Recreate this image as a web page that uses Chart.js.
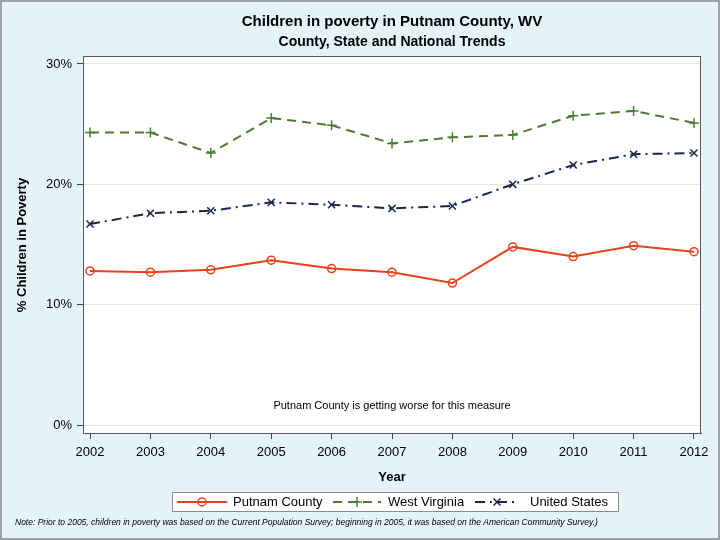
<!DOCTYPE html>
<html><head><meta charset="utf-8">
<script src="https://cdn.jsdelivr.net/npm/chart.js@4/dist/chart.umd.min.js"></script>
<style>
html,body{margin:0;padding:0;background:#e6f2fa}
#wrap{position:relative;width:720px;height:540px}
canvas{display:block}
</style></head><body>
<div id="wrap"><canvas id="c" width="720" height="540"></canvas></div>
<script>
const years = [2002,2003,2004,2005,2006,2007,2008,2009,2010,2011,2012];
const putnamCounty = [12.8,12.7,12.9,13.7,13.0,12.7,11.8,14.8,14.0,14.9,14.4];
const westVirginia = [24.3,24.3,22.6,25.5,24.9,23.4,23.9,24.1,25.7,26.1,25.1];
const unitedStates = [16.7,17.6,17.8,18.5,18.3,18.0,18.2,20.0,21.6,22.5,22.6];
const yTicks = [0,10,20,30];
const seriesNames = ['Putnam County','West Virginia','United States'];
const titleText = 'Children in poverty in Putnam County, WV';
const subtitleText = 'County, State and National Trends';
const xTitle = 'Year';
const yTitle = '% Children in Poverty';
const annotationText = 'Putnam County is getting worse for this measure';
const noteText = 'Note: Prior to 2005, children in poverty was based on the Current Population Survey; beginning in 2005, it was based on the American Community Survey.)';

const RED = '#e8421c', GREEN = '#4b7d32', NAVY = '#14294d';
const FONT = '"Liberation Sans", Arial, sans-serif';

function pts(arr){ return years.map((y,i)=>({x:y,y:arr[i]})); }

const styles = [
  {color:RED, dash:[], point:'circle'},
  {color:GREEN, dash:[9,6], point:'cross'},
  {color:NAVY, dash:[10,5,2,5], point:'crossRot'}
];
const seriesData = [putnamCounty, westVirginia, unitedStates];

const datasets = seriesNames.map((name,i)=>({
  label: name,
  data: pts(seriesData[i]),
  borderColor: styles[i].color,
  backgroundColor: 'rgba(0,0,0,0)',
  borderWidth: 2,
  borderDash: styles[i].dash,
  pointStyle: styles[i].point,
  pointRadius: i===0 ? 4 : 5,
  pointBorderWidth: 1.5,
  pointBorderColor: styles[i].color,
  pointBackgroundColor: 'rgba(0,0,0,0)',
  tension: 0,
  fill: false
}));

function drawMarker(ctx, style, x, y, color){
  ctx.save();
  ctx.strokeStyle = color; ctx.lineWidth = 1.5; ctx.setLineDash([]);
  ctx.beginPath();
  if (style==='circle'){ ctx.arc(x,y,4,0,Math.PI*2); }
  else if (style==='cross'){ ctx.moveTo(x-5,y); ctx.lineTo(x+5,y); ctx.moveTo(x,y-5); ctx.lineTo(x,y+5); }
  else { ctx.moveTo(x-3.5,y-3.5); ctx.lineTo(x+3.5,y+3.5); ctx.moveTo(x-3.5,y+3.5); ctx.lineTo(x+3.5,y-3.5); }
  ctx.stroke();
  ctx.restore();
}

const decor = {
  id:'decor',
  beforeDraw(chart){
    const {ctx, chartArea:a} = chart;
    ctx.save();
    ctx.fillStyle = '#e6f2fa';
    ctx.fillRect(0,0,chart.width,chart.height);
    ctx.fillStyle = '#ffffff';
    ctx.fillRect(a.left,a.top,a.right-a.left,a.bottom-a.top);
    ctx.restore();
  },
  afterDraw(chart){
    const {ctx, chartArea:a} = chart;
    ctx.save();
    // plot frame
    ctx.strokeStyle = '#5a5a5a'; ctx.lineWidth = 1;
    ctx.strokeRect(a.left+0.5, a.top+0.5, a.right-a.left-1, a.bottom-a.top);
    ctx.fillStyle = '#000';
    ctx.textAlign = 'center'; ctx.textBaseline = 'middle';
    ctx.font = 'bold 15px ' + FONT;
    ctx.fillText(titleText, 392, 22, 315);
    ctx.font = 'bold 14px ' + FONT;
    ctx.fillText(subtitleText, 392, 42, 230);
    // axis titles
    ctx.font = 'bold 13px ' + FONT;
    ctx.fillText(xTitle, 392, 477);
    ctx.save();
    ctx.translate(22, 245); ctx.rotate(-Math.PI/2);
    ctx.fillText(yTitle, 0, 0, 136);
    ctx.restore();
    // annotation
    ctx.font = '11px ' + FONT;
    ctx.fillText(annotationText, 392, 406, 246);
    // legend
    const lx = 172, ly = 492, lw = 446, lh = 19;
    ctx.fillStyle = '#fff'; ctx.fillRect(lx, ly, lw, lh);
    ctx.strokeStyle = '#8c8c8c'; ctx.lineWidth = 1;
    ctx.strokeRect(lx+0.5, ly+0.5, lw, lh);
    const sx = [177, 333, 475], tx = [233, 388, 530], sw = [50, 48, 44];
    const cy = 502;
    ctx.font = '13px ' + FONT; ctx.textAlign = 'left';
    seriesNames.forEach((n,i)=>{
      ctx.save();
      ctx.strokeStyle = styles[i].color; ctx.lineWidth = 2; ctx.setLineDash(styles[i].dash);
      ctx.beginPath(); ctx.moveTo(sx[i], cy); ctx.lineTo(sx[i]+sw[i], cy); ctx.stroke();
      ctx.restore();
      drawMarker(ctx, styles[i].point, sx[i]+sw[i]/2, cy, styles[i].color);
      ctx.fillStyle = '#000';
      ctx.fillText(n, tx[i], cy+0.5);
    });
    // note
    ctx.font = 'italic 8.5px ' + FONT;
    ctx.textAlign = 'left';
    ctx.fillText(noteText, 15, 522.5, 584);
    // outer frame
    ctx.strokeStyle = '#9aa3ab'; ctx.lineWidth = 2;
    ctx.strokeRect(1,1,chart.width-2,chart.height-2);
    ctx.restore();
  }
};

new Chart(document.getElementById('c'), {
  type:'line',
  data:{datasets},
  plugins:[decor],
  options:{
    responsive:false,
    animation:false,
    devicePixelRatio:1,
    layout:{padding:{left:0,top:56,right:19,bottom:0}},
    plugins:{legend:{display:false}, title:{display:false}, tooltip:{enabled:false}},
    scales:{
      x:{
        type:'linear', min:2001.884, max:2012.116,
        afterBuildTicks(s){ s.ticks = years.map(v=>({value:v})); },
        afterFit(s){ s.height = 107; },
        ticks:{autoSkip:false, maxRotation:0, padding:6, color:'#000', font:{family:FONT,size:13}, callback:v=>String(v)},
        grid:{drawOnChartArea:false, tickLength:6, tickColor:'#444', tickWidth:1},
        border:{color:'#5a5a5a', width:1}
      },
      y:{
        min:-0.66, max:30.66,
        afterBuildTicks(s){ s.ticks = yTicks.map(v=>({value:v})); },
        afterFit(s){ s.width = 83; },
        ticks:{padding:5, color:'#000', font:{family:FONT,size:13}, callback:v=>v+'%'},
        grid:{color:'#e9e6d6', lineWidth:1, tickLength:6, tickColor:'#444', tickWidth:1},
        border:{color:'#5a5a5a', width:1}
      }
    }
  }
});
</script>
</body></html>
